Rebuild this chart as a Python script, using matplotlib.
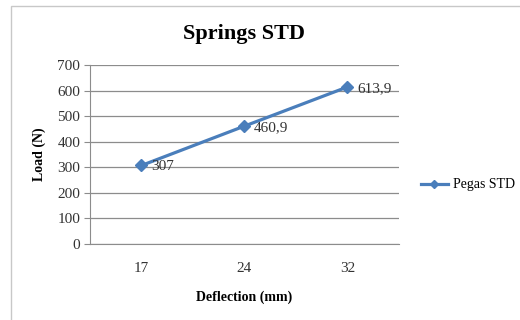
import matplotlib.pyplot as plt
from matplotlib.patches import Rectangle
import numpy as np

categories = ["17", "24", "32"]
load = [307, 460.9, 613.9]
point_labels = ["307", "460,9", "613,9"]
series_name = "Pegas STD"

plt.rcParams['font.family'] = ['Liberation Serif', 'DejaVu Serif']

fig = plt.figure(figsize=(5.2, 3.2), dpi=100)
fig.patches.append(Rectangle((0.021, -0.01), 1.0, 0.99, transform=fig.transFigure,
                             fill=False, edgecolor='#c8c8c8', linewidth=1.0))

ax = fig.add_axes([0.173, 0.2375, 0.594, 0.5595])
x = np.arange(len(categories))
line_color = '#4a7ebb'
ax.plot(x, load, color=line_color, linewidth=2.3, marker='D', markersize=6,
        label=series_name)
for xi, yi, lab in zip(x, load, point_labels):
    ax.annotate(lab, (xi, yi), xytext=(7, -1), textcoords='offset points',
                ha='left', va='center', fontsize=11, color='#333333')

ax.set_xlim(-0.5, 2.5)
ax.set_ylim(0, 700)
ax.set_yticks(range(0, 701, 100))
ax.set_xticks(x)
ax.set_xticklabels(categories)
ax.yaxis.grid(True, color='#8c8c8c', linewidth=0.9)
ax.set_axisbelow(True)
for s in ['top', 'right']:
    ax.spines[s].set_visible(False)
ax.spines['left'].set_color('#8c8c8c')
ax.spines['bottom'].set_color('#8c8c8c')
ax.tick_params(axis='y', length=4, color='#8c8c8c', labelsize=11, pad=3, labelcolor='#333333')
ax.tick_params(axis='x', length=0, labelsize=11, pad=13, labelcolor='#333333')

ax.set_title("Springs STD", fontsize=16, fontweight='bold', pad=19)
ax.set_xlabel("Deflection (mm)", fontsize=10, fontweight='bold', labelpad=11)
ax.set_ylabel("Load (N)", fontsize=10, fontweight='bold', labelpad=8)

ax.legend(loc='center left', bbox_to_anchor=(1.03, 0.33), frameon=False,
          fontsize=10, handlelength=2.0, handletextpad=0.3, markerscale=0.7)

fig.savefig("out.png", dpi=100)
